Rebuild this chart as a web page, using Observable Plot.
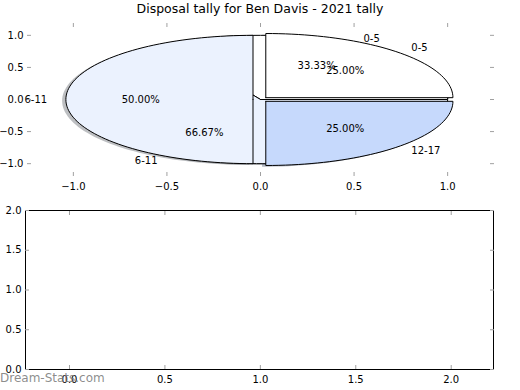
<!DOCTYPE html>
<html>
<head>
<meta charset="utf-8">
<script src="https://cdn.jsdelivr.net/npm/d3@7"></script>
<script src="https://cdn.jsdelivr.net/npm/@observablehq/plot@0.6"></script>
<style>
  html, body { margin: 0; padding: 0; background: #fff; }
  #fig { position: relative; width: 520px; height: 390px; overflow: hidden; font-family: "DejaVu Sans", sans-serif; }
  #fig > * { position: absolute; left: 0; }
  #title { top: 1px; width: 520px; text-align: center; font-size: 12.5px; color: #000; }
  #mark { top: 371px; left: 0; font-size: 12px; color: rgba(120,120,120,0.85); }
</style>
</head>
<body>
<div id="fig">
  <div id="title">Disposal tally for Ben Davis - 2021 tally</div>
</div>
<script>
// ---- data ----
const title = "Disposal tally for Ben Davis - 2021 tally";
const outerLabels = ["0-5", "6-11", "12-17"];
const outerValues = [1, 2, 1];          // 25% / 50% / 25%
const innerLabels = ["0-5", "6-11"];
const innerValues = [1, 2];             // 33.33% / 66.67%
const topXTicks = [-1.0, -0.5, 0.0, 0.5, 1.0];
const topYTicks = [-1.0, -0.5, 0.0, 0.5, 1.0];
const botXTicks = [0.0, 0.5, 1.0, 1.5, 2.0];
const botYTicks = [0.0, 0.5, 1.0, 1.5, 2.0];

// ---- styles ----
const colorOf = {"0-5": "#ffffff", "6-11": "#ebf2fe", "12-17": "#c6d9fc"};
const font = "DejaVu Sans";
const fmt = d => d3.format(".1f")(d).replace("-", "\u2212");

// build wedges of a pie (matplotlib style: start at 0deg, counter-clockwise)
function pie(labels, values, explode) {
  const total = d3.sum(values);
  let start = 0;
  return labels.map((lab, i) => {
    const frac = values[i] / total;
    const a0 = start * 2 * Math.PI, a1 = (start + frac) * 2 * Math.PI;
    start += frac;
    const mid = (a0 + a1) / 2;
    const cx = explode * Math.cos(mid), cy = explode * Math.sin(mid);
    const n = Math.max(4, Math.ceil((a1 - a0) / (Math.PI / 90)));
    const pts = [{x: cx, y: cy}];
    for (let k = 0; k <= n; k++) {
      const a = a0 + (a1 - a0) * k / n;
      pts.push({x: cx + Math.cos(a), y: cy + Math.sin(a)});
    }
    pts.push({x: cx, y: cy});
    return {
      label: lab, pct: (frac * 100).toFixed(2) + "%", pts,
      lx: cx + 1.1 * Math.cos(mid), ly: cy + 1.1 * Math.sin(mid),
      px: cx + 0.6 * Math.cos(mid), py: cy + 0.6 * Math.sin(mid),
      anchor: Math.cos(mid) > 0 ? "start" : "end"
    };
  });
}

const inner = pie(innerLabels, innerValues, 0);
const outer = pie(outerLabels, outerValues, 0.04);
const allW = [...inner, ...outer];

const shadowMarks = allW.map(w => Plot.line(w.pts, {
  x: d => d.x - 0.02, y: d => d.y - 0.02,
  fill: d3.color(colorOf[w.label]).darker(1.8).formatHex(), fillOpacity: 0.5,
  stroke: "none"
}));
const wedgeMarks = allW.map(w => Plot.line(w.pts, {
  x: "x", y: "y", fill: colorOf[w.label], stroke: "#000", strokeWidth: 1
}));
const textMarks = allW.flatMap(w => [
  Plot.text([w], {x: "lx", y: "ly", text: "label", textAnchor: w.anchor, fontSize: 10, fill: "#000"}),
  Plot.text([w], {x: "px", y: "py", text: "pct", textAnchor: "middle", fontSize: 10, fill: "#000"})
]);

function tickMarks(xt, yt) {
  const tc = "#a0a0a0";
  return [
    Plot.axisX(xt, {anchor: "bottom", tickSize: 4, dy: -4, text: null, stroke: tc}),
    Plot.axisX(xt, {anchor: "top", tickSize: 4, dy: 4, text: null, stroke: tc}),
    Plot.axisY(yt, {anchor: "left", tickSize: 4, dx: 4, text: null, stroke: tc}),
    Plot.axisY(yt, {anchor: "right", tickSize: 4, dx: -4, text: null, stroke: tc}),
    Plot.axisX(xt, {anchor: "bottom", tickSize: 0, tickPadding: 6, tickFormat: fmt, fontSize: 10, fill: "#000", label: null}),
    Plot.axisY(yt, {anchor: "left", tickSize: 0, tickPadding: 4, tickFormat: fmt, fontSize: 10, fill: "#000", label: null})
  ];
}

const topPlot = Plot.plot({
  width: 520, height: 200,
  marginTop: 22, marginBottom: 24, marginLeft: 27, marginRight: 27,
  x: {domain: [-1.245, 1.245]},
  y: {domain: [-1.2, 1.2]},
  style: {fontFamily: font, fontSize: "10px", background: "transparent", overflow: "visible"},
  marks: [...shadowMarks, ...wedgeMarks, ...textMarks, ...tickMarks(topXTicks, topYTicks)]
});
topPlot.style.top = "0px";

const botPlot = Plot.plot({
  width: 520, height: 190,
  marginTop: 10, marginBottom: 21, marginLeft: 25, marginRight: 27,
  x: {domain: [-0.2305, 2.2216]},
  y: {domain: [0, 2]},
  style: {fontFamily: font, fontSize: "10px", background: "transparent", overflow: "visible"},
  marks: [Plot.frame({stroke: "#000", strokeWidth: 1}), ...tickMarks(botXTicks, botYTicks)]
});
botPlot.style.top = "200px";

const fig = document.getElementById("fig");
fig.appendChild(topPlot);
fig.appendChild(botPlot);
const wm = document.createElement("div");
wm.id = "mark";
wm.textContent = "Dream-Stats.com";
fig.appendChild(wm);
</script>
</body>
</html>
